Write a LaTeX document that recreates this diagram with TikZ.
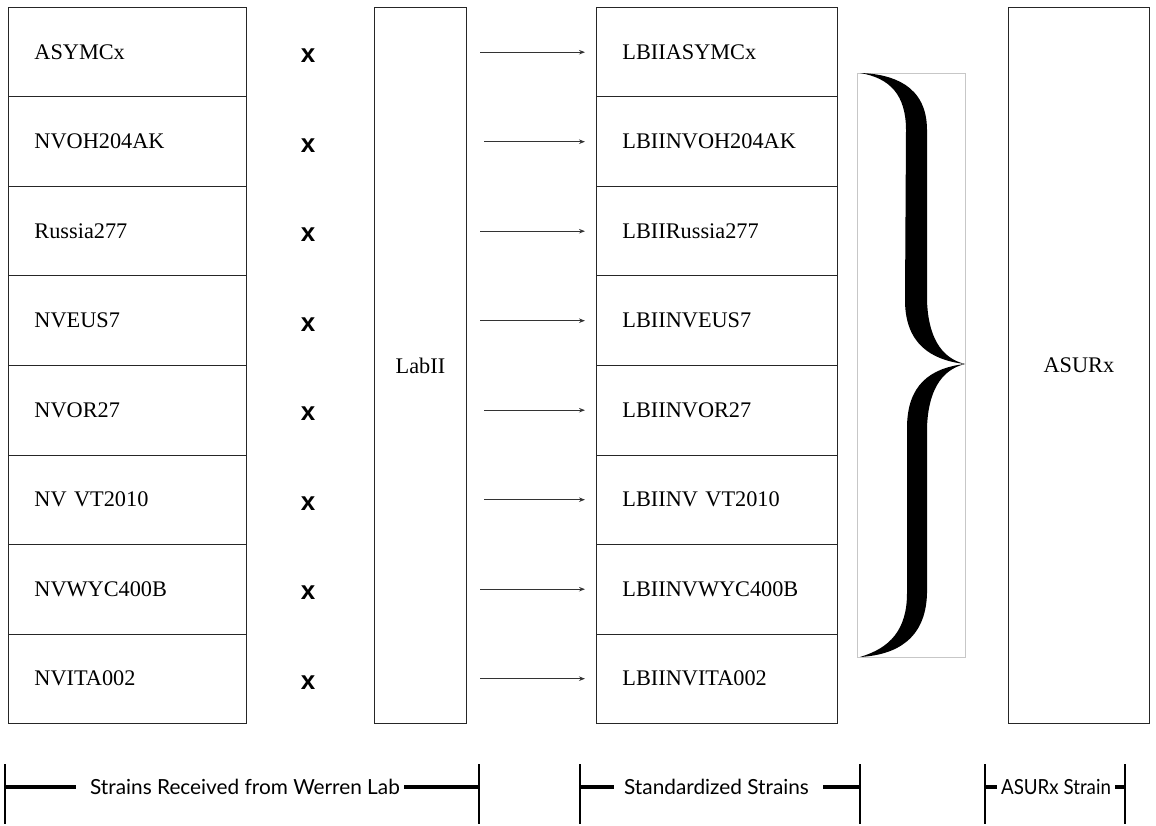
\documentclass[tikz,border=0pt]{standalone}
\usepackage{fontspec}
\setmainfont{Liberation Serif}
\setsansfont{Liberation Sans}
\newfontfamily\gillfont{Lato}
\newfontfamily\gillnarrow[FakeStretch=0.9]{Lato}
\usetikzlibrary{arrows.meta}
\begin{document}
\begin{tikzpicture}[x=1pt,y=-1pt,
  cellL/.style={draw=black!85, line width=0.9pt, anchor=north west, minimum height=89.5pt,
    text width=186pt, inner xsep=26pt, inner ysep=0pt, align=left, font=\fontsize{22.3}{25}\selectfont},
  cellR/.style={cellL, text width=189pt},
  tall/.style={draw=black!85, line width=0.9pt, anchor=north west, minimum height=716pt,
    inner sep=0pt, font=\fontsize{22.3}{25}\selectfont},
  xmark/.style={font=\sffamily\bfseries\fontsize{26}{28}\selectfont, inner sep=0pt},
  arr/.style={draw=black!80, line width=1.1pt, -{Stealth[length=6pt,width=4.5pt]}},
  lab/.style={font=\gillfont\fontsize{20.8}{24}\selectfont, inner sep=0pt},
  bar/.style={line width=1.6pt},
  hbar/.style={line width=3.2pt}]
\useasboundingbox (0,0) rectangle (1156,826);
% left column
\foreach \i/\t in {1/ASYMCx,2/NVOH204AK,3/Russia277,4/NVEUS7,5/NVOR27,6/NV VT2010,7/NVWYC400B,8/NVITA002}{
  \node[cellL] (L\i) at (8,{7+(\i-1)*89.5}) {\t};
  \node[xmark] (x\i) at (308,{52+(\i-1)*89.5+4}) {x};
}
% LabII
\node[tall, minimum width=92pt] (lab) at (374,7) {LabII};
% right column
\foreach \i/\t in {1/LBIIASYMCx,2/LBIINVOH204AK,3/LBIIRussia277,4/LBIINVEUS7,5/LBIINVOR27,6/LBIINV VT2010,7/LBIINVWYC400B,8/LBIINVITA002}{
  \node[cellR] (R\i) at (596,{7+(\i-1)*89.5}) {\t};
}
\foreach \i/\s in {1/116,2/112,3/116,4/116,5/112,6/112,7/116,8/116}{
  \draw[arr] ([xshift=-\s pt]R\i.west) -- ([xshift=-11pt]R\i.west);
}
% brace
\node[draw=black!22, line width=0.8pt, anchor=north west, minimum width=108pt, minimum height=584pt, inner sep=0pt] (bb) at (857,73) {};
\fill[black] (860,73) .. controls (892,74) and (927,85) .. (927,130) -- (927,300)
  .. controls (928,335) and (940,358) .. (965,364)
  .. controls (940,370) and (928,393) .. (927,428) -- (927,593)
  .. controls (926,640) and (895,655) .. (860,657)
  .. controls (890,648) and (907,630) .. (907,593) -- (907,428)
  .. controls (907,385) and (930,368) .. (965,364)
  .. controls (930,360) and (905,343) .. (905,300) -- (906,130)
  .. controls (906,95) and (890,78) .. (860,73) -- cycle;
% ASURx
\node[tall, minimum width=141pt] (asurx) at (1008,7) {ASURx};
% bottom labels
\node[lab] (s1) at (245,787) {Strains Received from Werren Lab};
\coordinate (a1) at (5,787); \coordinate (b1) at (479,787);
\draw[bar] (5,764) -- (5,824); \draw[bar] (479,764) -- (479,824);
\draw[hbar] (a1) -- ([xshift=-14pt]s1.west); \draw[hbar] ([xshift=4pt]s1.east) -- (b1);
\node[lab] (s2) at (716.5,787) {Standardized Strains};
\coordinate (a2) at (580,787); \coordinate (b2) at (860,787);
\draw[bar] (580,764) -- (580,824); \draw[bar] (860,764) -- (860,824);
\draw[hbar] (a2) -- ([xshift=-10pt]s2.west); \draw[hbar] ([xshift=14pt]s2.east) -- (b2);
\node[lab, font=\gillnarrow\fontsize{20.8}{24}\selectfont] (s3) at (1056,787) {ASURx Strain};
\coordinate (a3) at (985,787); \coordinate (b3) at (1125,787);
\draw[bar] (985,764) -- (985,824); \draw[bar] (1125,764) -- (1125,824);
\draw[hbar] (a3) -- ([xshift=-4pt]s3.west); \draw[hbar] ([xshift=4pt]s3.east) -- (b3);
\end{tikzpicture}
\end{document}
